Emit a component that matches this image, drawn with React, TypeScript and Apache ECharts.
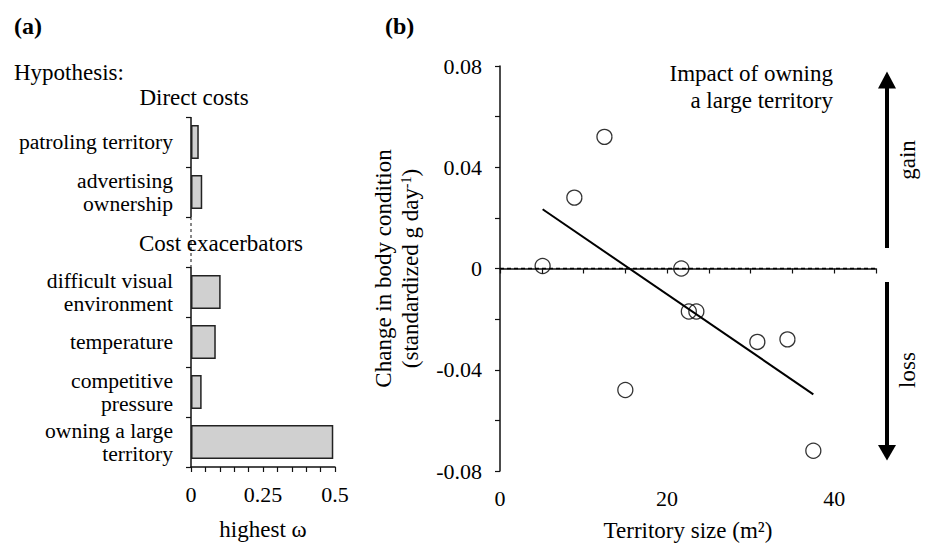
import React, { useEffect, useRef } from 'react';
import * as echarts from 'echarts';

// ---- Panel (a) data ----
const hypotheses = [
  'patroling territory',
  'advertising\nownership',
  '',
  'difficult visual\nenvironment',
  'temperature',
  'competitive\npressure',
  'owning a large\nterritory',
];
const highestOmega = [0.027, 0.039, null, 0.103, 0.086, 0.037, 0.494];
const omegaLabelStep = 0.25;

// ---- Panel (b) data ----
const territorySize = [5.1, 8.9, 12.5, 15.0, 21.7, 22.6, 23.5, 30.8, 34.4, 37.5];
const conditionChange = [0.001, 0.028, 0.052, -0.048, 0.0, -0.017, -0.017, -0.029, -0.028, -0.072];
const fitX = [5.1, 37.5];
const fitY = [0.0234, -0.0497];
const zeroLineX = [0, 45];

const FONT = 'Liberation Serif';
const FS_CAT = 21.6;
const FS_TICK = 22;
const FS = 23;

const gridA = { left: 191, top: 117, width: 144, height: 350 };
const gridB = { left: 500, top: 66, width: 376, height: 405 };

export default function App() {
  const ref = useRef<HTMLDivElement>(null);
  useEffect(() => {
    if (!ref.current) return;
    const chart = echarts.init(ref.current, undefined, { renderer: 'svg' });
    const band = gridA.height / hypotheses.length;
    const axA = gridA.left;
    const yTop = gridA.top;
    const gapTop = gridA.top + band * 2;
    const gapBot = gridA.top + band * 3;
    const yBot = gridA.top + gridA.height;

    const txt = (x: number, y: number, text: string, extra: any = {}) => ({
      type: 'text',
      x,
      y,
      ...extra,
      style: {
        text,
        fontFamily: FONT,
        fontSize: FS,
        fill: '#000',
        textVerticalAlign: 'middle',
        ...(extra.style || {}),
      },
    });

    const option: any = {
      animation: false,
      backgroundColor: '#fff',
      textStyle: { fontFamily: FONT, color: '#000' },
      grid: [
        { ...gridA, outerBoundsMode: 'none' },
        { ...gridB, outerBoundsMode: 'none' },
      ],
      xAxis: [
        {
          gridIndex: 0,
          type: 'value',
          min: 0,
          max: 0.5,
          interval: 0.05,
          splitLine: { show: false },
          axisLine: { show: true, lineStyle: { color: '#111', width: 1.5 } },
          axisTick: { show: true, length: 5, lineStyle: { color: '#111', width: 1.2 } },
          axisLabel: {
            fontFamily: FONT,
            fontSize: FS_TICK,
            color: '#000',
            margin: 16,
            formatter: (v: number) => {
              const k = v / omegaLabelStep;
              return Math.abs(k - Math.round(k)) < 1e-6 ? String(+v.toFixed(2)) : '';
            },
          },
          name: 'highest ω',
          nameLocation: 'middle',
          nameGap: 51,
          nameTextStyle: { fontFamily: FONT, fontSize: FS, color: '#000' },
        },
        {
          gridIndex: 1,
          type: 'value',
          min: 0,
          max: 45,
          interval: 5,
          splitLine: { show: false },
          axisLine: { show: true, lineStyle: { color: '#111', width: 1.5 } },
          axisTick: { show: true, length: 5, lineStyle: { color: '#111', width: 1.2 } },
          axisLabel: {
            fontFamily: FONT,
            fontSize: FS_TICK,
            color: '#000',
            margin: 16,
            formatter: (v: number) => (Math.round(v) % 20 === 0 ? String(Math.round(v)) : ''),
          },
          name: 'Territory size (m²)',
          nameLocation: 'middle',
          nameGap: 48,
          nameTextStyle: { fontFamily: FONT, fontSize: FS, color: '#000' },
        },
      ],
      yAxis: [
        {
          gridIndex: 0,
          type: 'category',
          inverse: true,
          data: hypotheses,
          axisLine: { show: false },
          axisTick: { show: true, length: 5, lineStyle: { color: '#111', width: 1.2 } },
          axisLabel: {
            fontFamily: FONT,
            fontSize: FS_CAT,
            color: '#000',
            margin: 18,
            lineHeight: 23,
          },
        },
        {
          gridIndex: 1,
          type: 'value',
          min: -0.08,
          max: 0.08,
          interval: 0.02,
          splitLine: { show: false },
          axisLine: { show: true, onZero: false, lineStyle: { color: '#111', width: 1.5 } },
          axisTick: { show: true, length: 5, lineStyle: { color: '#111', width: 1.2 } },
          axisLabel: {
            fontFamily: FONT,
            fontSize: FS_TICK,
            color: '#000',
            margin: 18,
            formatter: (v: number) => {
              const k = v * 25;
              if (Math.abs(k - Math.round(k)) > 1e-6) return '';
              return Math.abs(v) < 1e-9 ? '0' : v.toFixed(2);
            },
          },
          name: '{a|Change in body condition}\n{a|(standardized g day}{s|-1}{a|)}',
          nameLocation: 'middle',
          nameRotate: 90,
          nameGap: 76,
          nameTextStyle: {
            fontFamily: FONT,
            fontSize: FS,
            color: '#000',
            rich: {
              a: { fontFamily: FONT, fontSize: FS, color: '#000', lineHeight: 27 },
              s: { fontFamily: FONT, fontSize: 14, color: '#000', lineHeight: 27, verticalAlign: 'top', padding: [2, 0, 0, 0] },
            },
          },
        },
      ],
      series: [
        {
          type: 'bar',
          xAxisIndex: 0,
          yAxisIndex: 0,
          data: highestOmega,
          barCategoryGap: '32%',
          itemStyle: { color: '#d0d0d0', borderColor: '#222', borderWidth: 1.5 },
          silent: true,
        },
        {
          type: 'line',
          xAxisIndex: 1,
          yAxisIndex: 1,
          data: zeroLineX.map((x) => [x, 0]),
          symbol: 'none',
          lineStyle: { color: '#000', width: 1.3, type: [4, 3] },
          z: 1,
        },
        {
          type: 'line',
          xAxisIndex: 1,
          yAxisIndex: 1,
          data: fitX.map((x, i) => [x, fitY[i]]),
          symbol: 'none',
          lineStyle: { color: '#000', width: 2 },
          z: 2,
        },
        {
          type: 'scatter',
          xAxisIndex: 1,
          yAxisIndex: 1,
          data: territorySize.map((x, i) => [x, conditionChange[i]]),
          symbol: 'circle',
          symbolSize: 15,
          itemStyle: { color: 'rgba(255,255,255,0)', borderColor: '#000', borderWidth: 1.3 },
          z: 3,
        },
      ],
      graphic: [
        txt(14, 26, '(a)', { style: { fontWeight: 'bold', fontSize: 24 } }),
        txt(385, 26, '(b)', { style: { fontWeight: 'bold', fontSize: 24 } }),
        txt(14, 72, 'Hypothesis:'),
        txt(194, 97, 'Direct costs', { style: { textAlign: 'center' } }),
        { type: 'line', shape: { x1: axA, y1: yTop, x2: axA, y2: gapTop }, style: { stroke: '#111', lineWidth: 1.5 } },
        { type: 'line', shape: { x1: axA, y1: gapTop, x2: axA, y2: gapBot }, style: { stroke: '#111', lineWidth: 1, lineDash: [3, 3] } },
        { type: 'line', shape: { x1: axA, y1: gapBot, x2: axA, y2: yBot }, style: { stroke: '#111', lineWidth: 1.5 } },
        txt(221, 243, 'Cost exacerbators', { style: { textAlign: 'center' } }),
        txt(833, 86.5, 'Impact of owning\na large territory', { style: { textAlign: 'right', lineHeight: 27 } }),
        // up arrow
        { type: 'rect', shape: { x: 885, y: 86, width: 4, height: 162 }, style: { fill: '#000' } },
        { type: 'polygon', shape: { points: [[878, 88.5], [896, 88.5], [887, 71.5]] }, style: { fill: '#000' } },
        // down arrow
        { type: 'rect', shape: { x: 885, y: 282, width: 4, height: 165 }, style: { fill: '#000' } },
        { type: 'polygon', shape: { points: [[878, 445], [896, 445], [887, 460.5]] }, style: { fill: '#000' } },
        txt(907, 160, 'gain', { rotation: Math.PI / 2, style: { textAlign: 'center' } }),
        txt(907, 370, 'loss', { rotation: Math.PI / 2, style: { textAlign: 'center' } }),
      ],
    };
    chart.setOption(option);
    return () => chart.dispose();
  }, []);
  return (
    <div
      ref={ref}
      style={{ position: 'fixed', left: 0, top: 0, width: 928, height: 543, background: '#fff' }}
    />
  );
}
